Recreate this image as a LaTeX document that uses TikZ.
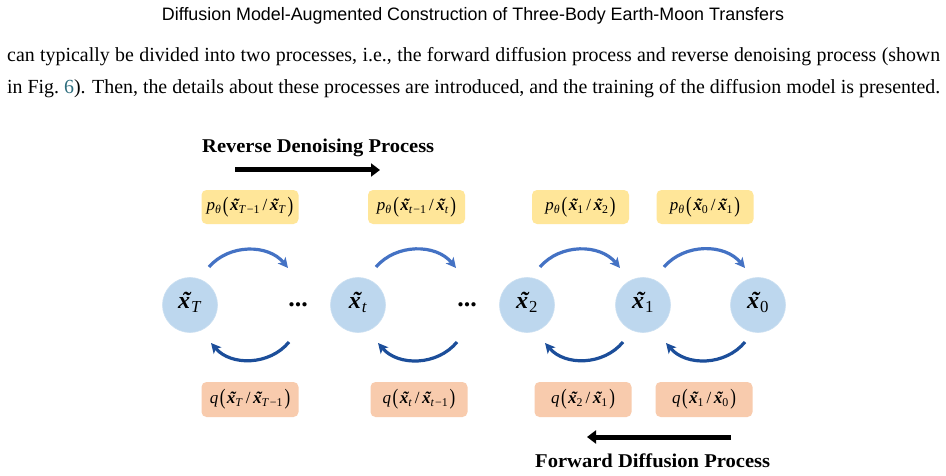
\documentclass[tikz,border=0pt]{standalone}
\usepackage{fontspec}
\setmainfont{Liberation Serif}
\newfontfamily\hdrfont{Liberation Sans}
\usetikzlibrary{arrows.meta}
\definecolor{ylw}{HTML}{FFE699}
\definecolor{org}{HTML}{F8CBAD}
\definecolor{cir}{HTML}{BDD7EE}
\definecolor{topb}{HTML}{4472C4}
\definecolor{botb}{HTML}{1C4E9A}
\definecolor{refc}{HTML}{2E6E7E}
\newcommand\xt{{\bfseries\itshape\ooalign{x\cr\hidewidth\kern0.14em˜\hidewidth\cr}}}
\newcommand\lp{\raisebox{-0.08em}{\scalebox{1}[1.3]{(}}}
\newcommand\rp{\raisebox{-0.08em}{\scalebox{1}[1.3]{)}}}
\newcommand\slsep{\kern2.5pt/\kern2.5pt}
\newlength\Lone
\newlength\Ltwo
\newlength\Lmax
\newcommand\lineonetext{can typically be divided into two processes, i.e., the forward diffusion process and reverse denoising process (shown}
\newcommand\linetwotext{in Fig.~{\color{refc}6}). Then, the details about these processes are introduced, and the training of the diffusion model is presented.}
\newcommand\measurelines{\settowidth{\Lone}{\lineonetext}\settowidth{\Ltwo}{\linetwotext}\setlength{\Lmax}{\Lone}\ifdim\Ltwo>\Lmax \setlength{\Lmax}{\Ltwo}\fi}
\begin{document}
\begin{tikzpicture}[x=1pt,y=1pt,
  pbox/.style={fill=ylw, rounded corners=5pt, minimum width=97pt, minimum height=34pt, inner sep=0pt, font=\fontsize{17}{20}\selectfont},
  qbox/.style={pbox, fill=org, minimum height=35pt},
  state/.style={circle, fill=cir, draw=cir!80!white, line width=0.6pt, minimum size=55pt, inner sep=0pt, font=\fontsize{24}{27}\selectfont},
  dotsn/.style={inner sep=0pt, font=\fontsize{26}{30}\selectfont\bfseries},
  fwdarc/.style={draw=topb, line width=3.2pt, -{Stealth[length=10pt,width=10pt,inset=2.5pt]}, bend left=50},
  bwdarc/.style={draw=botb, line width=3.2pt, -{Stealth[length=10pt,width=10pt,inset=2.5pt]}, bend left=50},
  bigarrow/.style={draw=black, line width=5pt, -{Triangle[length=9pt,width=13pt]}},
  ttl/.style={inner sep=0pt, anchor=base west, font=\fontsize{19.5}{23}\selectfont\bfseries},
  para/.style={inner sep=0pt, anchor=base west, font=\fontsize{20}{24}\selectfont},
]
\useasboundingbox (0,0) rectangle (946,475);
\fill[white] (0,0) rectangle (946,475);

% header and paragraph
\node[inner sep=0pt, anchor=base, font=\hdrfont\fontsize{18}{22}\selectfont] (hdr) at (473,454)
  {\resizebox{622pt}{\height}{Diffusion Model-Augmented Construction of Three-Body Earth-Moon Transfers}};
\node[para] (l1) at (7,413) {\measurelines\resizebox{933pt}{\height}{\makebox[\Lmax][s]{\lineonetext}}};
\node[para] (l2) at (7,381) {\measurelines\resizebox{933pt}{\height}{\makebox[\Lmax][s]{\linetwotext}}};

% titles and big arrows
\node[ttl] (rdp) at (202,323) {\resizebox{232pt}{\height}{Reverse Denoising Process}};
\node[ttl] (fdp) at (535,8) {\resizebox{235pt}{\height}{Forward Diffusion Process}};
\coordinate (ra) at (235,305);
\coordinate (rb) at (380,305);
\coordinate (fa) at (731,38);
\coordinate (fb) at (587,38);
\draw[bigarrow] (ra) -- (rb);
\draw[bigarrow] (fa) -- (fb);

% yellow boxes
\node[pbox] (p1) at (250,268) {\textit{p}\textsubscript{\textit{θ}}\kern1.5pt\lp\kern1.5pt\xt\textsubscript{\textit{T}\kern1pt−1}\slsep\xt\textsubscript{\textit{T}}\kern1.5pt\rp};
\node[pbox] (p2) at (416.5,268) {\textit{p}\textsubscript{\textit{θ}}\kern1.5pt\lp\kern1.5pt\xt\textsubscript{\textit{t}\kern1pt−1}\slsep\xt\textsubscript{\textit{t}}\kern1.5pt\rp};
\node[pbox] (p3) at (580.5,268) {\textit{p}\textsubscript{\textit{θ}}\kern1.5pt\lp\kern1.5pt\xt\textsubscript{1}\slsep\xt\textsubscript{2}\kern1.5pt\rp};
\node[pbox] (p4) at (705,268) {\textit{p}\textsubscript{\textit{θ}}\kern1.5pt\lp\kern1.5pt\xt\textsubscript{0}\slsep\xt\textsubscript{1}\kern1.5pt\rp};

% orange boxes
\node[qbox] (q1) at (250,75.5) {\textit{q}\kern1.5pt\lp\kern1.5pt\xt\textsubscript{\textit{T}}\slsep\xt\textsubscript{\textit{T}\kern1pt−1}\kern1.5pt\rp};
\node[qbox] (q2) at (419,75.5) {\textit{q}\kern1.5pt\lp\kern1.5pt\xt\textsubscript{\textit{t}}\slsep\xt\textsubscript{\textit{t}\kern1pt−1}\kern1.5pt\rp};
\node[qbox] (q3) at (583,75.5) {\textit{q}\kern1.5pt\lp\kern1.5pt\xt\textsubscript{2}\slsep\xt\textsubscript{1}\kern1.5pt\rp};
\node[qbox] (q4) at (704,75.5) {\textit{q}\kern1.5pt\lp\kern1.5pt\xt\textsubscript{1}\slsep\xt\textsubscript{0}\kern1.5pt\rp};

% states
\node[state] (sT) at (190,170) {\xt\kern1pt\textsubscript{\textit{T}}};
\node[dotsn] (d1) at (298,170) {...};
\node[state] (st) at (358,170) {\xt\kern1pt\textsubscript{\textit{t}}};
\node[dotsn] (d2) at (467,170) {...};
\node[state] (s2) at (527,170) {\xt\kern1pt\textsubscript{2}};
\node[state] (s1) at (643,170) {\xt\kern1pt\textsubscript{1}};
\node[state] (s0) at (758,170) {\xt\kern1pt\textsubscript{0}};

% arc end points
\coordinate (a1s) at (209,208); \coordinate (a1e) at (288,207);
\coordinate (a2s) at (376,208); \coordinate (a2e) at (456,207);
\coordinate (a3s) at (540,208); \coordinate (a3e) at (620,207);
\coordinate (a4s) at (664,208); \coordinate (a4e) at (745,207);
\coordinate (b1s) at (289,133); \coordinate (b1e) at (211,132);
\coordinate (b2s) at (457,133); \coordinate (b2e) at (378,132);
\coordinate (b3s) at (623,133); \coordinate (b3e) at (545,132);
\coordinate (b4s) at (745,133); \coordinate (b4e) at (666,132);

\draw[fwdarc] (a1s) to (a1e);
\draw[fwdarc] (a2s) to (a2e);
\draw[fwdarc] (a3s) to (a3e);
\draw[fwdarc] (a4s) to (a4e);
\draw[bwdarc] (b1s) to (b1e);
\draw[bwdarc] (b2s) to (b2e);
\draw[bwdarc] (b3s) to (b3e);
\draw[bwdarc] (b4s) to (b4e);
\end{tikzpicture}
\end{document}
